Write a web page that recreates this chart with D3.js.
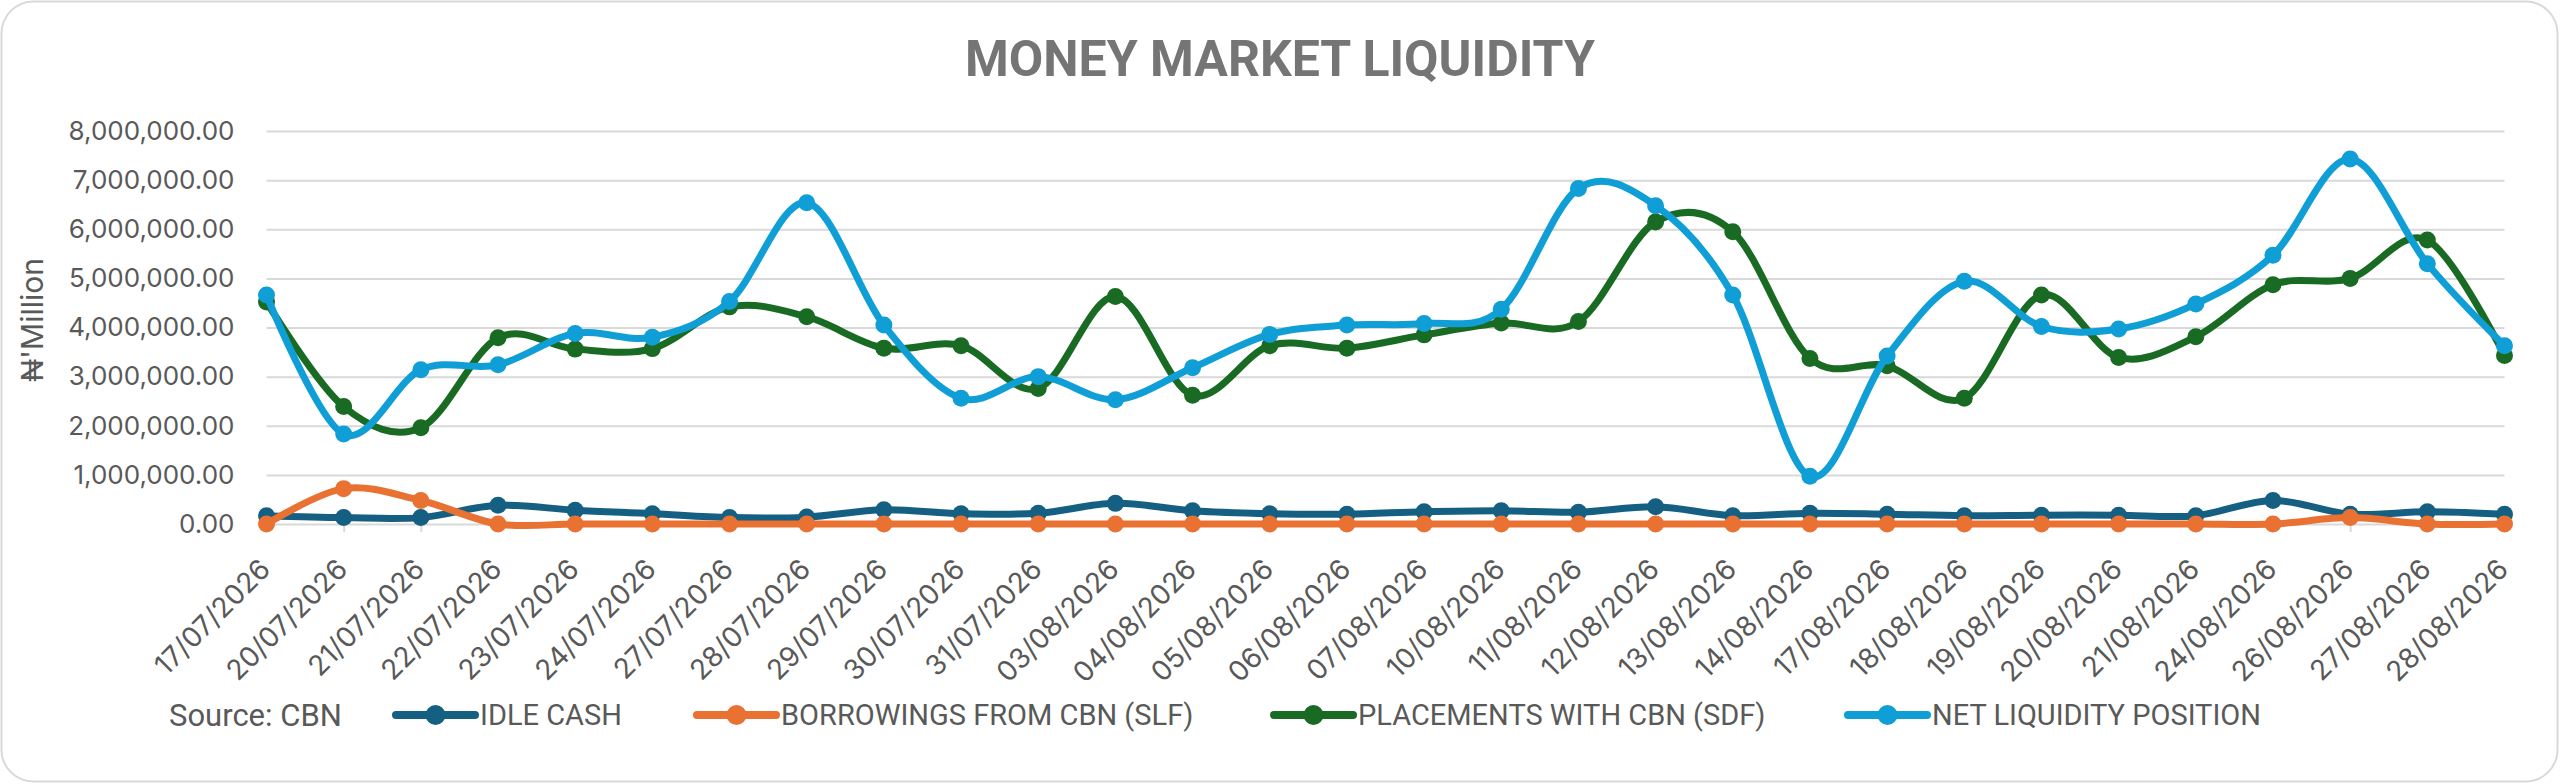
<!DOCTYPE html>
<html>
<head>
<meta charset="utf-8">
<script src="https://cdn.jsdelivr.net/npm/d3@7"></script>
<style>
	body { margin: 0; background: #fff; }
	#chart text { fill: #595959; }
</style>
</head>
<body>
<div id="chart"></div>
<script>
// dates on the category axis
const dates = ["17/07/2026", "20/07/2026", "21/07/2026", "22/07/2026", "23/07/2026", "24/07/2026",
	"27/07/2026", "28/07/2026", "29/07/2026", "30/07/2026", "31/07/2026", "03/08/2026", "04/08/2026",
	"05/08/2026", "06/08/2026", "07/08/2026", "10/08/2026", "11/08/2026", "12/08/2026", "13/08/2026",
	"14/08/2026", "17/08/2026", "18/08/2026", "19/08/2026", "20/08/2026", "21/08/2026", "24/08/2026",
	"26/08/2026", "27/08/2026", "28/08/2026"];

// values in N'Million
const idleCash = [170000, 130000, 130000, 380000, 280000, 210000, 130000, 140000, 290000, 210000,
	220000, 420000, 270000, 210000, 200000, 250000, 270000, 240000, 350000, 170000,
	220000, 200000, 170000, 180000, 180000, 170000, 480000, 200000, 250000, 200000];
const borrowings = [0, 720000, 480000, 0, 0, 0, 0, 0, 0, 0,
	0, 0, 0, 0, 0, 0, 0, 0, 0, 0,
	0, 0, 0, 0, 0, 0, 0, 130000, 0, 0];
const placements = [4520000, 2390000, 1960000, 3790000, 3560000, 3570000, 4420000, 4220000, 3580000, 3630000,
	2760000, 4630000, 2620000, 3630000, 3580000, 3850000, 4090000, 4120000, 6150000, 5950000,
	3370000, 3220000, 2560000, 4660000, 3390000, 3810000, 4870000, 5000000, 5780000, 3430000];
const netLiquidity = [4660000, 1830000, 3140000, 3240000, 3880000, 3800000, 4530000, 6540000, 4050000, 2560000,
	3000000, 2530000, 3180000, 3860000, 4050000, 4080000, 4370000, 6830000, 6480000, 4660000,
	970000, 3420000, 4940000, 4020000, 3970000, 4480000, 5470000, 7430000, 5300000, 3630000];

const yTicks = [0, 1000000, 2000000, 3000000, 4000000, 5000000, 6000000, 7000000, 8000000];

const seriesNames = ["IDLE CASH", "BORROWINGS FROM CBN (SLF)", "PLACEMENTS WITH CBN (SDF)", "NET LIQUIDITY POSITION"];
const seriesColors = ["#156082", "#e97132", "#196b24", "#0f9ed5"];
const seriesValues = [idleCash, borrowings, placements, netLiquidity];

const W = 2560, H = 784;
const margin = { top: 131, right: 55.5, bottom: 260, left: 266.5 };
const width = W - margin.left - margin.right;
const height = H - margin.top - margin.bottom;

const svgRoot = d3.select("#chart").append("svg")
	.attr("width", W)
	.attr("height", H);

// outer frame
svgRoot.append("rect")
	.attr("x", 1.5).attr("y", 1.5)
	.attr("width", W - 4).attr("height", H - 4)
	.attr("rx", 32)
	.attr("fill", "#fff")
	.attr("stroke", "#d9d9d9")
	.attr("stroke-width", 2);

svgRoot.append("text")
	.attr("x", 1280).attr("y", 76)
	.attr("text-anchor", "middle")
	.style("font-family", "Roboto, sans-serif")
	.style("font-weight", 700)
	.style("font-size", "50px")
	.style("fill", "#757575")
	.text("MONEY MARKET LIQUIDITY");

const svg = svgRoot.append("g")
	.attr("transform", `translate(${margin.left},${margin.top})`);

const x = d3.scalePoint().domain(dates).range([0, width]);
const y = d3.scaleLinear().domain([0, 8000000]).range([height, 0]);

// y axis + gridlines
const yAxis = svg.append("g")
	.call(d3.axisLeft(y).tickValues(yTicks).tickSize(-width).tickPadding(32).tickFormat(d3.format(",.2f")));
yAxis.select(".domain").remove();
yAxis.selectAll("line").attr("stroke", "#d9d9d9").attr("stroke-width", 2);
yAxis.selectAll("text")
	.style("font-family", "Inter, sans-serif")
	.style("font-size", "26px");

// x axis
const xAxis = svg.append("g")
	.attr("transform", `translate(0,${height})`)
	.call(d3.axisBottom(x).tickSize(8));
xAxis.select(".domain").remove();
xAxis.selectAll("line").attr("stroke", "#d9d9d9").attr("stroke-width", 2);
xAxis.selectAll("text")
	.attr("x", 0).attr("y", 0).attr("dy", 0)
	.attr("transform", "translate(5,47) rotate(-45)")
	.style("text-anchor", "end")
	.style("font-family", "Inter, sans-serif")
	.style("font-size", "28px");

// y axis title
svgRoot.append("text")
	.attr("transform", "translate(43,320) rotate(-90)")
	.attr("text-anchor", "middle")
	.style("font-family", "Inter, 'Noto Sans', 'DejaVu Sans', sans-serif")
	.style("font-size", "30px")
	.text("\u20a6'Million");

const line = d3.line()
	.x((d, i) => x(dates[i]))
	.y(d => y(d))
	.curve(d3.curveCatmullRom.alpha(0));

seriesValues.forEach((vals, k) => {
	const g = svg.append("g");
	g.append("path")
		.datum(vals)
		.attr("fill", "none")
		.attr("stroke", seriesColors[k])
		.attr("stroke-width", 7)
		.attr("stroke-linejoin", "round")
		.attr("d", line);
	g.selectAll("circle")
		.data(vals)
		.enter().append("circle")
		.attr("cx", (d, i) => x(dates[i]))
		.attr("cy", d => y(d))
		.attr("r", 8.5)
		.attr("fill", seriesColors[k]);
});

// legend
const legend = svgRoot.append("g")
	.attr("transform", "translate(0,715)")
	.style("font-family", "Roboto, sans-serif")
	.style("font-size", "29px");

legend.append("text")
	.attr("x", 169).attr("dy", "0.36em")
	.style("font-size", "31px")
	.text("Source: CBN");

const legendStarts = [396, 697, 1274, 1848];
seriesNames.forEach((name, k) => {
	const item = legend.append("g").attr("transform", `translate(${legendStarts[k]},0)`);
	item.append("line")
		.attr("x1", 0).attr("x2", 79)
		.attr("stroke", seriesColors[k])
		.attr("stroke-width", 8)
		.attr("stroke-linecap", "round");
	item.append("circle")
		.attr("cx", 39.5).attr("r", 10)
		.attr("fill", seriesColors[k]);
	item.append("text")
		.attr("x", 84).attr("dy", "0.36em")
		.text(name);
});
</script>
</body>
</html>
